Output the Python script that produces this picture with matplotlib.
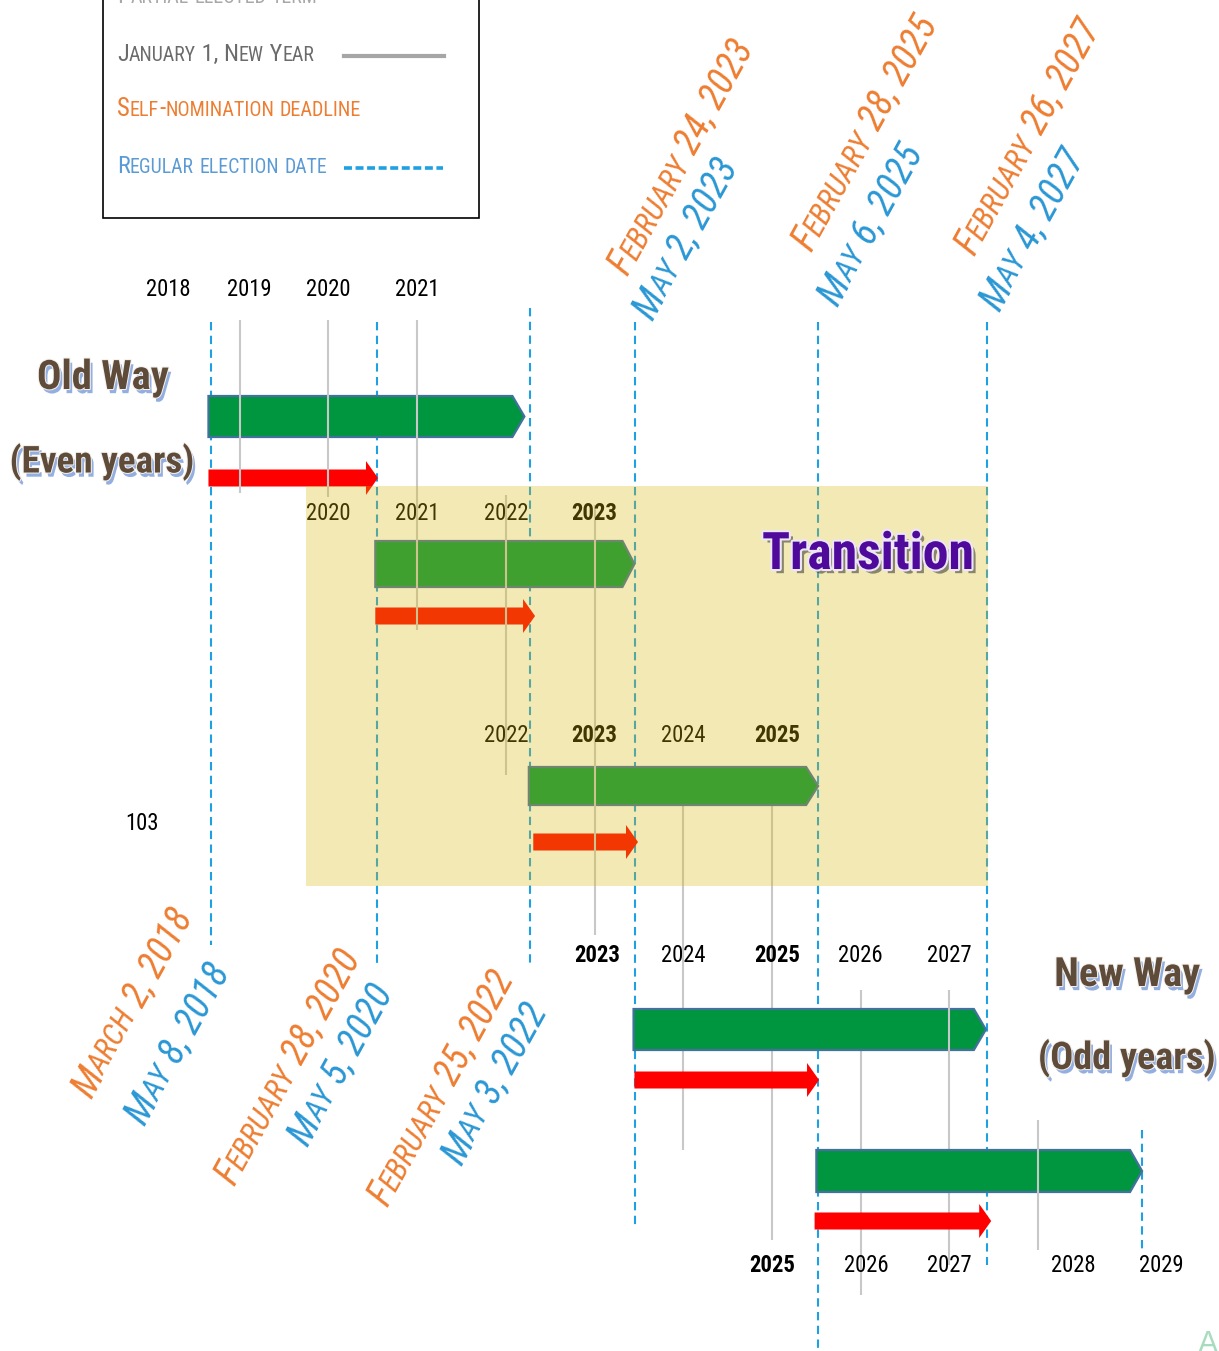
import os
import matplotlib
matplotlib.use("Agg")
import matplotlib.pyplot as plt
import matplotlib.transforms as mtransforms
import matplotlib.patheffects as pe
from matplotlib.patches import Polygon, Rectangle
from matplotlib.font_manager import FontProperties, fontManager
import numpy as np

# ------------------------------------------------------------------ data
rows = ["Old way", "Transition A", "Transition B", "New way A", "New way B"]
# term bars (decimal years as drawn on the timeline)
term_start = [2018.65, 2020.53, 2022.26, 2023.44, 2025.50]
term_end = [2022.21, 2023.45, 2025.52, 2027.41, 2029.17]
# self-nomination window (red arrows)
nomination_start = [2018.65, 2020.53, 2022.31, 2023.45, 2025.48]
nomination_end = [2020.56, 2022.33, 2023.49, 2025.53, 2027.47]

# regular election dates (blue dashed lines)
election_pos = [2018.68, 2020.55, 2022.27, 2023.46, 2025.52, 2027.42, 2029.17]
election_labels = ["May 8, 2018", "May 5, 2020", "May 3, 2022", "May 2, 2023",
                   "May 6, 2025", "May 4, 2027", None]
deadline_labels = ["March 2, 2018", "February 28, 2020", "February 25, 2022",
                   "February 24, 2023", "February 28, 2025", "February 26, 2027", None]

# year labels per row
row_years = [[2018, 2019, 2020, 2021],
             [2020, 2021, 2022, 2023],
             [2022, 2023, 2024, 2025],
             [2023, 2024, 2025, 2026, 2027],
             [2025, 2026, 2027, 2028, 2029]]
bold_years = [2023, 2025]

# January 1 lines
jan_years = [2019, 2020, 2021, 2022, 2023, 2024, 2025, 2026, 2027, 2027, 2028]

transition_span = (2019.75, 2027.43)

legend_items = ["Partial elected term", "January 1, New Year",
                "Self-nomination deadline", "Regular election date"]

# ------------------------------------------------------------------ layout
W, H = 1219, 1351
X0, X1 = 2016.301, 2030.037
PPY = W / (X1 - X0)          # pixels per year

names = {f.name for f in fontManager.ttflist}
files = {os.path.basename(f.fname): f.fname for f in fontManager.ttflist}
SANS = "Liberation Sans" if "Liberation Sans" in names else "DejaVu Sans"


def narrow_fp(size, bold=False, italic=False):
    for fam in ["Liberation Sans Narrow", "Roboto Condensed", "Open Sans Condensed",
                "DejaVu Sans Condensed"]:
        if fam in names:
            return FontProperties(family=fam, size=size, weight="bold" if bold else "normal",
                                  style="italic" if italic else "normal")
    key = "DejaVuSansCondensed" + {(False, False): "", (True, False): "-Bold",
                                   (False, True): "-Oblique",
                                   (True, True): "-BoldOblique"}[(bold, italic)] + ".ttf"
    if key in files:
        return FontProperties(fname=files[key], size=size)
    return FontProperties(family=SANS, size=size, weight="bold" if bold else "normal",
                          style="italic" if italic else "normal")


fig = plt.figure(figsize=(W / 100, H / 100), dpi=100)
ax = fig.add_axes([0, 0, 1, 1])
ax.set_xlim(X0, X1)
ax.set_ylim(H, 0)
ax.axis("off")
px = mtransforms.Affine2D().scale(1, -1).translate(0, H)   # layout pixels (y down)
renderer = fig.canvas.get_renderer()

GREEN = "#009640"
EDGE = "#41719c"
RED = "#ff0000"
BLUE = "#1ea0e2"
GRAY = "#c8c8c8"
ORANGE = "#ed7d31"
LBLUE = "#2a97d4"

bar_rows = [(396, 437), (541, 587), (767, 805), (1009, 1050), (1150, 1192)]
arrow_rows = [478, 616, 842, 1080, 1221]
label_rows = [290, 513, 736, 956, 1266]
label_nudge = {(0, 2018): 17, (0, 2019): 10, (2, 2025): 5, (3, 2025): 5,
               (4, 2026): 6, (4, 2028): 35, (4, 2029): 34, (3, 2023): 3}
jan_spans = [(320, 493, True), (320, 497, True), (320, 630, True), (495, 775, True),
             (505, 935, True), (805, 1150, False), (805, 1240, False),
             (990, 1295, False), (990, 1100, True), (1100, 1265, False),
             (1120, 1250, True)]
elec_spans = [(322, 945), (322, 965), (308, 965), (322, 1225), (322, H), (322, 1265),
              (1130, 1250)]
# label offsets (px) from election line: (dx_deadline, y_deadline, dx_election, y_election)
date_lab_pos = [(-134, 1100, -81, 1127), (-157, 1187, -84, 1148), (-157, 1208, -83, 1167),
                (-22, 277, 3, 322), (-21, 253, 5, 308), (-27, 257, -2, 313)]
DATE_SHIFT = 14


def text_width(s, fp):
    w1, _, _ = renderer.get_text_width_height_descent("|" + s + "|", fp, ismath=False)
    w0, _, _ = renderer.get_text_width_height_descent("||", fp, ismath=False)
    return w1 - w0


def fit_size(s, target, size, bold=False):
    w = text_width(s, narrow_fp(size, bold))
    return min(size, size * target / w)


def smallcaps(x, y, s, size, color, transform, rotation=0.0, fpfun=None,
              italic=False, ratio=0.82, zorder=6, dx=0.0, dy=0.0, target=None):
    fpfun = fpfun or narrow_fp
    runs = []
    for ch in s:
        sm = ch.islower()
        if runs and runs[-1][1] == sm:
            runs[-1][0] += ch.upper()
        else:
            runs.append([ch.upper(), sm])

    def widths(sz):
        fps = [fpfun(sz * ratio if sm else sz, False, italic) for _, sm in runs]
        return fps, [text_width(t, f) for (t, _), f in zip(runs, fps)]

    fps, ws = widths(size)
    if target is not None and sum(ws) > target:
        fps, ws = widths(size * target / sum(ws))
    th = np.deg2rad(rotation)
    ux, uy = np.cos(th), np.sin(th)
    pos = 0.0
    for (t, sm), fp, w in zip(runs, fps, ws):
        tr = mtransforms.offset_copy(transform, fig=fig, x=dx + pos * ux,
                                     y=dy + pos * uy, units="dots")
        ax.text(x, y, t, fontproperties=fp, color=color, rotation=rotation,
                rotation_mode="anchor", ha="left", va="baseline", transform=tr,
                zorder=zorder)
        pos += w


# ------------------------------------------------------------------ election lines
for xe, (y0, y1) in zip(election_pos, elec_spans):
    ax.plot([xe, xe], [y0, y1], color=BLUE, lw=1.5, ls=(0, (4, 2.6)), zorder=1)

# January 1 lines
for yr, (y0, y1, over) in zip(jan_years, jan_spans):
    ax.plot([yr, yr], [y0, y1], color=GRAY, lw=1.5, zorder=4 if over else 1.5,
            solid_capstyle="butt")

# term bars (pentagon arrows)
tip = 12 / PPY
for xs, xe, (yt, yb) in zip(term_start, term_end, bar_rows):
    yc = (yt + yb) / 2
    ax.add_patch(Polygon([(xs, yt), (xe - tip, yt), (xe, yc), (xe - tip, yb), (xs, yb)],
                         closed=True, facecolor=GREEN, edgecolor=EDGE, lw=1.6, zorder=3))

# nomination arrows
hl = 12 / PPY
for xs, xe, yc in zip(nomination_start, nomination_end, arrow_rows):
    sh, hh = 8.5, 17
    ax.add_patch(Polygon([(xs, yc - sh), (xe - hl, yc - sh), (xe - hl, yc - hh), (xe, yc),
                          (xe - hl, yc + hh), (xe - hl, yc + sh), (xs, yc + sh)],
                         closed=True, facecolor=RED, edgecolor="none", zorder=3.5))

# year labels
ysize = fit_size("2024", 45, 24)
for r, (yrs, yl) in enumerate(zip(row_years, label_rows)):
    for yr in yrs:
        bold = r > 0 and yr in bold_years
        tr = mtransforms.offset_copy(ax.transData, fig=fig, x=label_nudge.get((r, yr), 0),
                                     y=0, units="dots")
        ax.text(yr, yl, str(yr), fontproperties=narrow_fp(ysize, bold), color="black",
                ha="center", va="center", transform=tr, zorder=4)

# transition overlay
ax.add_patch(Rectangle((transition_span[0], 486), transition_span[1] - transition_span[0],
                       400, facecolor=(215 / 255, 185 / 255, 8 / 255), alpha=0.3,
                       edgecolor="none", zorder=5))

tsize = fit_size("Transition", 212, 46, bold=True)
ax.text(868, 555, "Transition", transform=px, fontproperties=narrow_fp(tsize, True),
        color="#4f0a9c", ha="center", va="center", zorder=7,
        path_effects=[pe.SimplePatchShadow(offset=(3, -3), shadow_rgbFace="#333333", alpha=0.55),
                      pe.Stroke(linewidth=3, foreground="#ece6f6"), pe.Normal()])

brown_fx = [pe.SimplePatchShadow(offset=(2, -3), shadow_rgbFace="#6f93d6", alpha=0.75),
            pe.Stroke(linewidth=1.5, foreground="#f4f0ea"), pe.Normal()]
for (cx, cy), s, tw in zip([(103, 378), (102, 462), (1127, 975), (1127, 1058)],
                           ["Old Way", "(Even years)", "New Way", "(Odd years)"],
                           [132, 185, 146, 178]):
    sz = fit_size(s, tw, 36, bold=True)
    ax.text(cx, cy, s, transform=px, fontproperties=narrow_fp(sz, True),
            color="#5e4b3a", ha="center", va="center", zorder=7, path_effects=brown_fx)

ax.text(142, 824, "103", transform=px, fontproperties=narrow_fp(ysize), color="black",
        ha="center", va="center", zorder=7)

# date labels
for xe, el, dl, (ddx, ddy, edx, edy) in zip(election_pos, election_labels,
                                             deadline_labels, date_lab_pos):
    if dl is None:
        continue
    smallcaps(xe, ddy, dl, 27, ORANGE, ax.transData, rotation=61, italic=True,
              dx=ddx + DATE_SHIFT, zorder=7)
    smallcaps(xe, edy, el, 27.5, LBLUE, ax.transData, rotation=61, italic=True,
              dx=edx + DATE_SHIFT, zorder=7)

# legend
ax.add_patch(Rectangle((103, -5), 376, 223, transform=px, facecolor="none",
                       edgecolor="black", lw=1.2, zorder=8))
smallcaps(117, 3, legend_items[0], 22, "#a8a8a8", px, zorder=8, target=200)
smallcaps(117, 61, legend_items[1], 24, "#6b6b6b", px, zorder=8, target=198)
smallcaps(117, 116, legend_items[2], 24, ORANGE, px, zorder=8, target=246)
smallcaps(117, 173, legend_items[3], 24, "#5b9bd5", px, zorder=8, target=211)
ax.plot([344, 444], [56, 56], transform=px, color="#a6a6a6", lw=3, zorder=8)
ax.plot([344, 443], [168, 168], transform=px, color="#1ea0e2", lw=2.6,
        ls=(0, (2.2, 1.0)), zorder=8)

# faint corner glyph
ax.text(1208, 1330, "A", transform=px, family=SANS, fontsize=22, color="#a9dcbf",
        ha="center", va="top", zorder=8)

fig.savefig("out.png", dpi=100)
